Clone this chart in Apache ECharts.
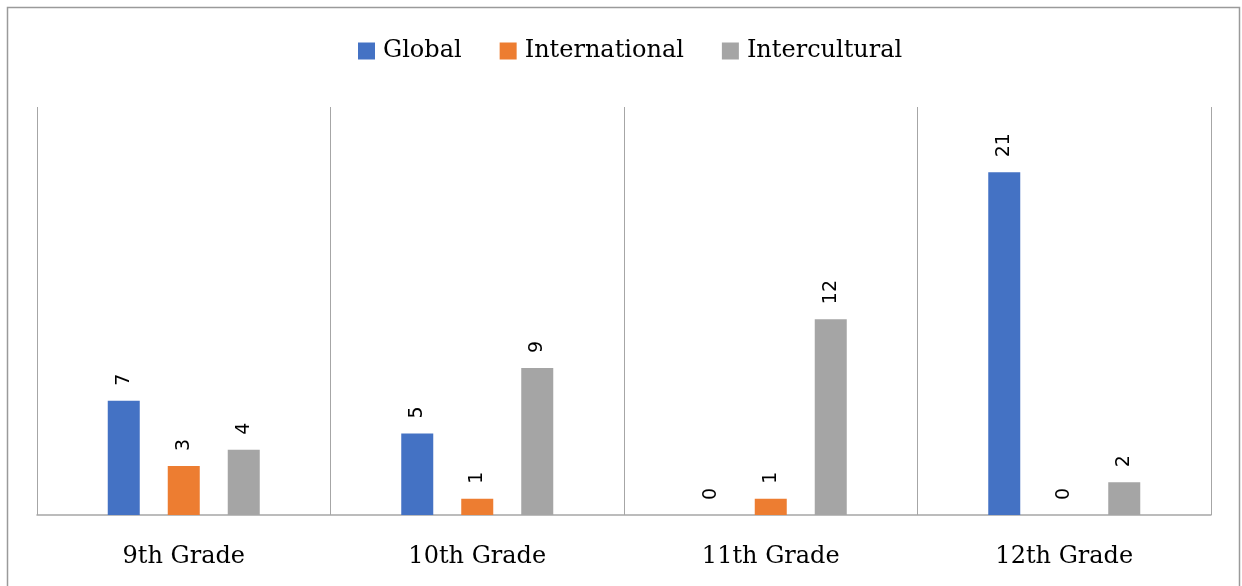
<!DOCTYPE html>
<html>
<head>
<meta charset="utf-8">
<script src="https://cdn.jsdelivr.net/npm/echarts@6/dist/echarts.min.js"></script>
<style>
  html, body { margin: 0; padding: 0; background: #fff; }
  #chart { width: 1242px; height: 586px; }
</style>
</head>
<body>
<div id="chart"></div>
<script>
// data
const grades = ['9th Grade', '10th Grade', '11th Grade', '12th Grade'];
const globalVals = [7, 5, 0, 21];
const internationalVals = [3, 1, 1, 0];
const interculturalVals = [4, 9, 12, 2];

const barLabel = {
  show: true,
  position: 'top',
  rotate: 90,
  align: 'left',
  verticalAlign: 'middle',
  distance: 15,
  fontFamily: 'DejaVu Sans',
  fontSize: 19,
  color: '#000'
};

function makeSeries(name, data, color) {
  return {
    name: name,
    type: 'bar',
    data: data,
    barWidth: 32,
    barGap: '87.5%',
    itemStyle: { color: color },
    label: barLabel
  };
}

let options = {
  animation: false,
  graphic: [
    {
      type: 'rect',
      shape: { x: 7.5, y: 7.5, width: 1232, height: 620 },
      style: { fill: 'none', stroke: '#9a9a9a', lineWidth: 1.5 },
      silent: true
    }
  ],
  legend: {
    top: 34,
    left: 353,
    itemWidth: 17,
    itemHeight: 17,
    itemGap: 38,
    textStyle: {
      fontFamily: 'DejaVu Serif',
      fontSize: 24,
      color: '#000',
      padding: [0, 0, 0, 3]
    },
    data: [
      { name: 'Global', icon: 'rect' },
      { name: 'International', icon: 'rect' },
      { name: 'Intercultural', icon: 'rect' }
    ]
  },
  grid: {
    left: 37,
    right: 31,
    top: 107,
    bottom: 71,
    containLabel: false
  },
  xAxis: {
    type: 'category',
    data: grades,
    boundaryGap: true,
    axisLine: { show: true, lineStyle: { color: '#a6a6a6', width: 1.5 } },
    axisTick: { show: false },
    splitLine: { show: true, interval: 0, lineStyle: { color: '#a6a6a6', width: 1 } },
    axisLabel: {
      interval: 0,
      margin: 30,
      fontFamily: 'DejaVu Serif',
      fontSize: 24,
      color: '#000'
    }
  },
  yAxis: {
    type: 'value',
    min: 0,
    max: 25,
    show: false,
    splitLine: { show: false }
  },
  series: [
    makeSeries('Global', globalVals, '#4472C4'),
    makeSeries('International', internationalVals, '#ED7D31'),
    makeSeries('Intercultural', interculturalVals, '#A5A5A5')
  ]
};

let myChart = echarts.init(document.getElementById('chart'));
myChart.setOption(options);
</script>
</body>
</html>
